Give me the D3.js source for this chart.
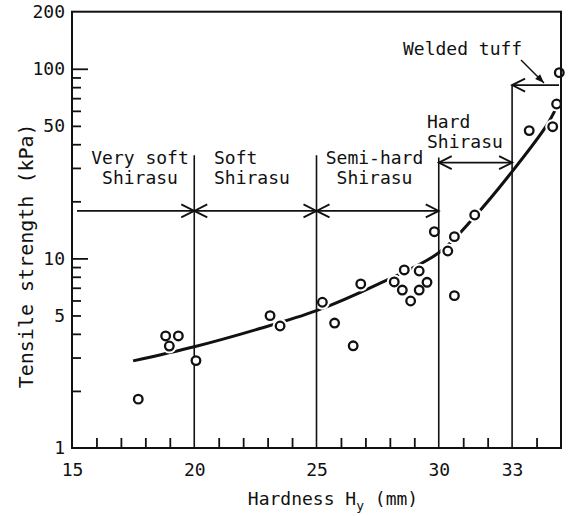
<!DOCTYPE html>
<html>
<head>
<meta charset="utf-8">
<script src="https://cdn.jsdelivr.net/npm/d3@7"></script>
<style>
  body { margin: 0; background: #fff; }
  svg { display: block; }
  text { font-family: "DejaVu Sans Mono", "Liberation Mono", monospace; fill: #111; }
</style>
</head>
<body>
<svg id="chart" width="570" height="516"></svg>
<script>
// Measured samples: hardness H_y (mm) and tensile strength (kPa)
const hardness = [17.71, 18.83, 19.35, 18.98, 20.07, 23.10, 23.51, 25.24, 25.74, 26.50,
                  26.81, 28.18, 28.59, 28.51, 28.85, 29.20, 29.52, 29.20, 30.37, 30.64,
                  29.82, 30.64, 31.47, 33.70, 34.66, 34.82, 34.93];
const strength = [1.81, 3.90, 3.90, 3.45, 2.89, 4.99, 4.40, 5.87, 4.56, 3.46,
                  7.33, 7.51, 8.69, 6.81, 5.96, 8.58, 7.48, 6.81, 10.94, 6.36,
                  13.83, 13.02, 16.94, 47.2, 49.5, 65.2, 95.4];

// Fitted trend curve
const curveHardness = [17.5, 20.0, 22.5, 25.0, 27.5, 30.0, 31.5, 33.0, 34.4, 34.85];
const curveStrength = [2.88, 3.42, 4.20, 5.30, 7.30, 10.7, 16.8, 28.7, 50.0, 64.0];

// Axis ticks
const xLabelTicks = [15, 20, 25, 30, 33];
const xMinorTicks = [16, 17, 18, 19, 21, 22, 23, 24, 26, 27, 28, 29, 31, 32, 34];
const yLabelTicks = [1, 5, 10, 50, 100, 200];
const yMajorTicks = [10, 100];
const yMinorTicks = [2, 3, 4, 5, 6, 7, 8, 9, 20, 30, 40, 50, 60, 70, 80, 90];

// Hardness classes: boundaries, ranges and names
const zoneBounds = [20, 25, 30, 33];
const zoneBoundTop = [35, 35, 34, 82];
const zoneFrom = [15, 20, 25, 30, 35];
const zoneTo = [20, 25, 30, 33, 33];
const zoneLevel = [17.8, 17.8, 17.8, 32, 82];
const zoneNames = [["Very soft", "Shirasu"], ["Soft", "Shirasu"], ["Semi-hard", "Shirasu"],
                   ["Hard", "Shirasu"], ["Welded tuff"]];

const svg = d3.select("#chart");
const x = d3.scaleLinear().domain([15, 35]).range([72, 561]);
const y = d3.scaleLog().domain([1, 200]).range([448, 11.7]);

// Arrowheads
const defs = svg.append("defs");
defs.append("marker").attr("id", "open").attr("viewBox", "-14 -8 16 16")
  .attr("refX", 0).attr("refY", 0).attr("markerWidth", 16).attr("markerHeight", 16)
  .attr("markerUnits", "userSpaceOnUse").attr("orient", "auto-start-reverse")
  .append("path").attr("d", "M-13,-6.5L0,0L-13,6.5").attr("fill", "none")
  .attr("stroke", "#111").attr("stroke-width", 1.8);
defs.append("marker").attr("id", "solid").attr("viewBox", "-10 -5 11 10")
  .attr("refX", 0).attr("refY", 0).attr("markerWidth", 11).attr("markerHeight", 10)
  .attr("markerUnits", "userSpaceOnUse").attr("orient", "auto")
  .append("path").attr("d", "M-9,-3.5L0,0L-9,3.5Z").attr("fill", "#111");

// Trend curve
const pts = curveHardness.map((h, i) => [h, curveStrength[i]]);
const line = d3.line().x(d => x(d[0])).y(d => y(d[1])).curve(d3.curveCatmullRom);
svg.append("path").attr("d", line(pts)).attr("fill", "none")
  .attr("stroke", "#111").attr("stroke-width", 3);

// White halos that break the curve around each sample
const samples = hardness.map((h, i) => [h, strength[i]]);
svg.append("g").selectAll("circle").data(samples).join("circle")
  .attr("cx", d => x(d[0])).attr("cy", d => y(d[1])).attr("r", 7.5).attr("fill", "#fff");

// Class boundary lines
svg.append("g").selectAll("line").data(zoneBounds).join("line")
  .attr("x1", d => x(d)).attr("x2", d => x(d))
  .attr("y1", (d, i) => y(zoneBoundTop[i])).attr("y2", y(1))
  .attr("stroke", "#111").attr("stroke-width", 1.6);

// Class range arrows
zoneFrom.forEach((f, i) => {
  const x1 = f === 15 ? x(15) + 5 : (f === 35 ? x(35) - 2 : x(f));
  const l = svg.append("line")
    .attr("x1", x1).attr("x2", x(zoneTo[i]))
    .attr("y1", y(zoneLevel[i])).attr("y2", y(zoneLevel[i]))
    .attr("stroke", "#111").attr("stroke-width", 1.6)
    .attr("marker-end", "url(#open)");
  if (f !== 15 && f !== 35) l.attr("marker-start", "url(#open)");
});

// Class names
const labelPos = [
  { x: 140, anchor: "middle", y: 164 },
  { x: 214, anchor: "start", y: 164 },
  { x: 374.5, anchor: "middle", y: 164 },
  { x: 427, anchor: "start", y: 128 },
  { x: 403, anchor: "start", y: 55 }
];
zoneNames.forEach((lines, i) => {
  const p = labelPos[i];
  const t = svg.append("text").attr("x", p.x).attr("y", p.y)
    .attr("text-anchor", p.anchor).style("font-size", "18px");
  lines.forEach((s, j) => t.append("tspan").attr("x", p.x).attr("dy", j ? 19.8 : 0).text(s));
});
// Leader from "Welded tuff" to its range arrow
svg.append("line").attr("x1", 521).attr("y1", 60).attr("x2", 544).attr("y2", 83)
  .attr("stroke", "#111").attr("stroke-width", 1.5).attr("marker-end", "url(#solid)");

// Samples
svg.append("g").selectAll("circle").data(samples).join("circle")
  .attr("cx", d => x(d[0])).attr("cy", d => y(d[1])).attr("r", 4.3)
  .attr("fill", "#fff").attr("stroke", "#111").attr("stroke-width", 2.3);

// Axes
const fmt = d3.format("d");
const styleAxis = g => {
  g.select(".domain").remove();
  g.selectAll("line").attr("stroke", "#111").attr("stroke-width", 1.8);
  g.selectAll("text").style("font-size", "18px").attr("fill", "#111")
    .style("font-family", "'DejaVu Sans Mono', monospace");
};
svg.append("g").attr("transform", `translate(${x(15)},0)`)
  .call(d3.axisLeft(y).tickValues(yMajorTicks).tickSize(-16).tickFormat(""))
  .call(styleAxis);
svg.append("g").attr("transform", `translate(${x(15)},0)`)
  .call(d3.axisLeft(y).tickValues(yMinorTicks).tickSize(-9).tickFormat(""))
  .call(styleAxis);
svg.append("g").attr("transform", `translate(${x(15)},0)`)
  .call(d3.axisLeft(y).tickValues(yLabelTicks).tickSize(0).tickPadding(7).tickFormat(fmt))
  .call(styleAxis);
svg.append("g").attr("transform", `translate(0,${y(1)})`)
  .call(d3.axisBottom(x).tickValues(xMinorTicks).tickSize(-10).tickFormat(""))
  .call(styleAxis);
svg.append("g").attr("transform", `translate(0,${y(1)})`)
  .call(d3.axisBottom(x).tickValues(xLabelTicks).tickSize(0).tickPadding(15).tickFormat(fmt))
  .call(styleAxis);

// Frame
svg.append("rect").attr("x", x(15)).attr("y", y(200))
  .attr("width", x(35) - x(15)).attr("height", y(1) - y(200))
  .attr("fill", "none").attr("stroke", "#111").attr("stroke-width", 2);

// Axis titles
svg.append("text").attr("transform", `translate(26,${(y(1) + y(200)) / 2 + 26}) rotate(-90)`)
  .attr("text-anchor", "middle").attr("dy", "0.35em").style("font-size", "20px")
  .text("Tensile strength (kPa)");
const xt = svg.append("text").attr("x", 333).attr("y", 505)
  .attr("text-anchor", "middle").style("font-size", "18px");
xt.append("tspan").text("Hardness H");
xt.append("tspan").attr("dy", 5).style("font-size", "13px").text("y");
xt.append("tspan").attr("dy", -5).text(" (mm)");
</script>
</body>
</html>
